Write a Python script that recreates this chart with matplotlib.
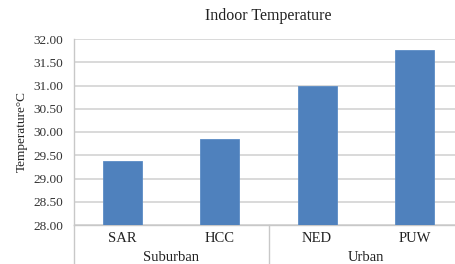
import matplotlib.pyplot as plt
import numpy as np

# data
sites = ['SAR', 'HCC', 'NED', 'PUW']
groups = ['Suburban', 'Urban']
group_size = [2, 2]
temps = [29.37, 29.86, 31.00, 31.76]
yticks = [28.0, 28.5, 29.0, 29.5, 30.0, 30.5, 31.0, 31.5, 32.0]

plt.rcParams['font.family'] = ['Liberation Serif', 'DejaVu Serif']

fig = plt.figure(figsize=(4.55, 2.64), dpi=100)
W, H = 455, 264
ax = fig.add_axes([74 / W, 39 / H, 389 / W, 186 / H])

x = np.arange(len(sites))
ax.bar(x, temps, width=0.4, bottom=0, color='#4f81bd', edgecolor='#5b8cc6',
       linewidth=0.6, zorder=3)

ax.set_ylim(28, 32)
ax.set_xlim(-0.5, len(sites) - 0.5)
ax.set_yticks(yticks)
ax.set_yticklabels(['%.2f' % v for v in yticks], fontsize=9.5, color='#333333')
ax.yaxis.grid(True, color='#d9d9d9', linewidth=1.4, zorder=0)
ax.tick_params(axis='y', length=0, pad=8)
ax.set_xticks(x)
ax.set_xticklabels(sites, fontsize=10.5, color='#222222')
ax.tick_params(axis='x', length=0, pad=5)

for s in ['top', 'right']:
    ax.spines[s].set_visible(False)
ax.spines['left'].set_color('#c8c8c8')
ax.spines['bottom'].set_color('#c8c8c8')
ax.spines['left'].set_linewidth(1.0)
ax.spines['bottom'].set_linewidth(1.0)

ax.set_ylabel('Temperature°C', fontsize=9.5, labelpad=4, color='#222222')
ax.set_title('Indoor Temperature', fontsize=11.5, pad=14, color='#222222')

# group labels and separators below the axis
trans = ax.get_xaxis_transform()
start = 0
for g, n in zip(groups, group_size):
    c = start + (n - 1) / 2
    ax.text(c, -0.175, g, transform=trans, ha='center', va='center',
            fontsize=10.5, color='#222222')
    start += n
    if start < len(sites):
        ax.plot([start - 0.5, start - 0.5], [0, -0.22], transform=trans,
                color='#c8c8c8', linewidth=1.0, clip_on=False)
ax.plot([-0.5, -0.5], [0, -0.22], transform=trans, color='#c8c8c8',
        linewidth=1.0, clip_on=False)

fig.savefig('out.png', dpi=100)
